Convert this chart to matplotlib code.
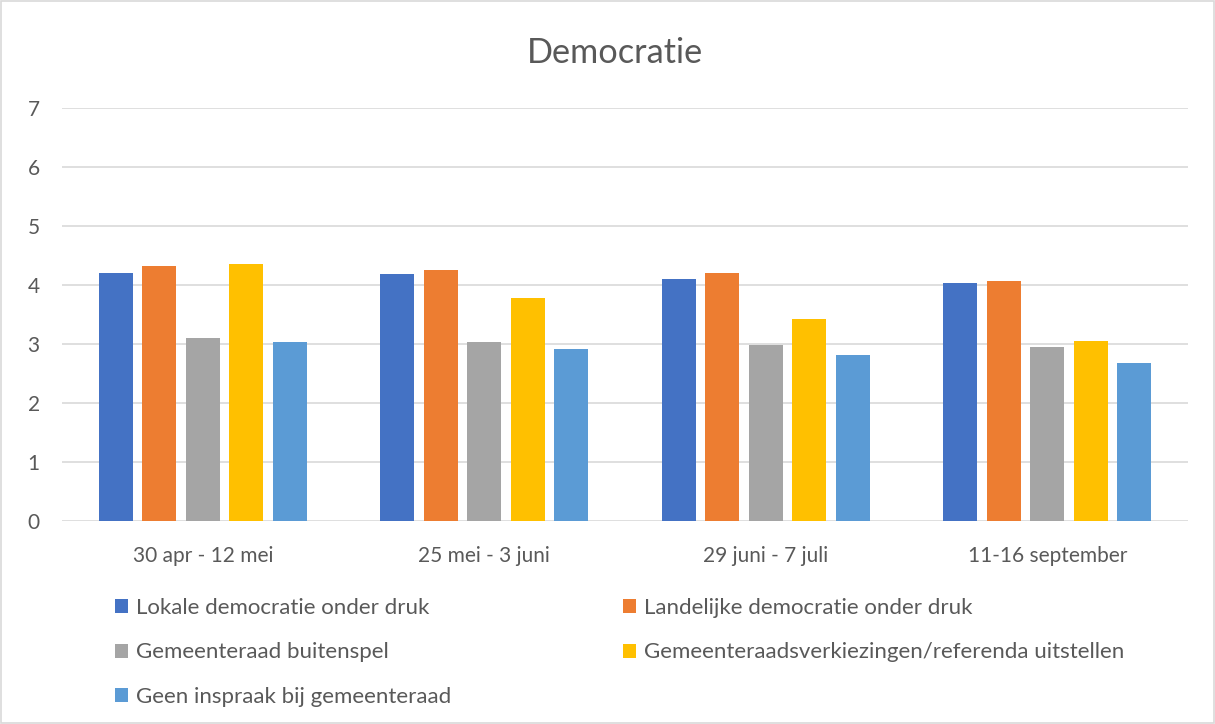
import matplotlib
matplotlib.use("Agg")
import matplotlib.pyplot as plt
from matplotlib.patches import Patch, Rectangle
import numpy as np

categories = ["30 apr - 12 mei", "25 mei - 3 juni", "29 juni - 7 juli", "11-16 september"]
series_names = [
    "Lokale democratie onder druk",
    "Landelijke democratie onder druk",
    "Gemeenteraad buitenspel",
    "Gemeenteraadsverkiezingen/referenda uitstellen",
    "Geen inspraak bij gemeenteraad",
]
lokale = [4.21, 4.19, 4.11, 4.03]
landelijke = [4.33, 4.25, 4.20, 4.07]
buitenspel = [3.11, 3.03, 2.98, 2.95]
uitstellen = [4.36, 3.78, 3.42, 3.05]
inspraak = [3.03, 2.91, 2.81, 2.67]
series_values = [lokale, landelijke, buitenspel, uitstellen, inspraak]
colors = ["#4472C4", "#ED7D31", "#A5A5A5", "#FFC000", "#5B9BD5"]
yticks = [0, 1, 2, 3, 4, 5, 6, 7]

plt.rcParams['font.family'] = ['Lato', 'DejaVu Sans']
text_color = "#595959"

fig = plt.figure(figsize=(12.15, 7.24), dpi=100)
fig.patch.set_facecolor("white")
fig.patches.append(Rectangle((0.001, 0.001), 0.998, 0.997, transform=fig.transFigure,
                             fill=False, edgecolor="#d9d9d9", lw=1.2))

ax = fig.add_axes([62/1215, 1-521/724, (1188-62)/1215, (521-108)/724])
x = np.arange(len(categories))
slot = 0.1545
bw = 0.122
for i, (vals, c) in enumerate(zip(series_values, colors)):
    ax.bar(x + (i - 2) * slot, vals, width=bw, color=c, zorder=3)

ax.set_xlim(-0.5, len(categories) - 0.5)
ax.set_ylim(0, 7)
ax.set_yticks(yticks)
ax.set_yticklabels([str(v) for v in yticks])
ax.set_xticks(x)
ax.set_xticklabels(categories)
ax.grid(axis='y', color="#d9d9d9", lw=1.2, zorder=0)
ax.tick_params(axis='both', length=0, labelsize=15, colors=text_color)
ax.tick_params(axis='y', pad=16)
ax.tick_params(axis='x', pad=18)
for s in ax.spines.values():
    s.set_visible(False)

fig.text(615/1215, 1-53/724, "Democratie", ha='center', va='center', fontsize=24.7, color=text_color)

handles = [Patch(facecolor=c) for c in colors]
common = dict(loc='upper left', frameon=False, fontsize=16, handlelength=0.6,
              handleheight=0.6, handletextpad=0.33, labelspacing=1.1,
              labelcolor=text_color, borderaxespad=0, borderpad=0)
col1 = [0, 2, 4]
col2 = [1, 3]
fig.legend([handles[i] for i in col1], [series_names[i] for i in col1],
           bbox_to_anchor=(115/1215, 1-598/724), **common)
fig.legend([handles[i] for i in col2], [series_names[i] for i in col2],
           bbox_to_anchor=(623/1215, 1-598/724), **common)

fig.savefig("out.png", dpi=100)
